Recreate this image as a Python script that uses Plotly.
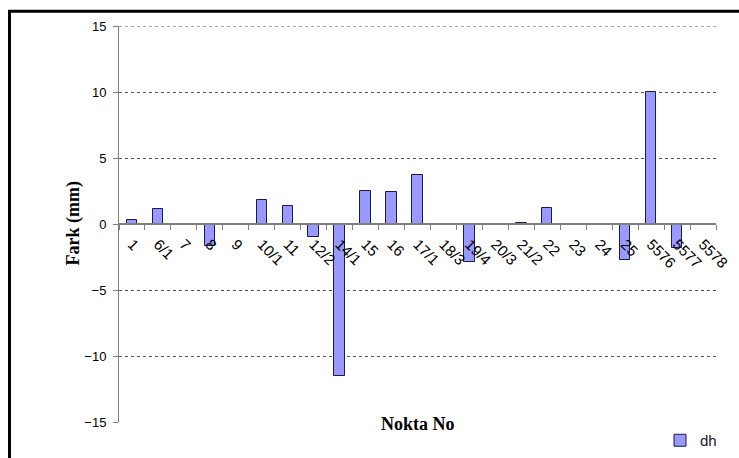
import plotly.graph_objects as go

# Point numbers and height differences (mm)
points = ["1", "6/1", "7", "8", "9", "10/1", "11", "12/2", "14/1", "15", "16",
          "17/1", "18/3", "19/4", "20/3", "21/2", "22", "23", "24", "25",
          "5576", "5577", "5578"]
dh = [0.3, 1.1, -0.1, -1.7, 0.0, 1.8, 1.4, -1.0, -11.5, 2.5, 2.4,
      3.7, 0.0, -2.9, 0.0, 0.1, 1.2, 0.0, 0.0, -2.7,
      10.0, -1.8, 0.0]
y_ticks = [-15, -10, -5, 0, 5, 10, 15]
y_max = 15

W, H = 739, 458
L, R, T, B = 119, 23, 26, 36
pw, ph = W - L - R, H - T - B


def px_x(x):
    return (x - L) / pw


def px_y(y):
    return (H - B - y) / ph


fig = go.Figure(
    go.Bar(
        x=points,
        y=dh,
        name="dh",
        width=0.4,
        marker=dict(color="#9999FF", line=dict(color="#1a1a4d", width=1)),
    )
)

fig.update_layout(
    width=W,
    height=H,
    margin=dict(l=L, r=R, t=T, b=B, autoexpand=False),
    paper_bgcolor="white",
    plot_bgcolor="white",
    font=dict(family="Liberation Sans, Arial, sans-serif", size=13, color="black"),
    bargap=0,
    showlegend=True,
    legend=dict(
        x=px_x(660), y=px_y(424), xanchor="left", yanchor="top",
        bgcolor="rgba(0,0,0,0)", font=dict(size=15, color="#1a1a2e"),
        itemwidth=30,
    ),
    xaxis=dict(
        type="category",
        anchor="free",
        position=0.5,
        showline=True,
        linecolor="#808080",
        linewidth=1.5,
        ticks="outside",
        tickson="boundaries",
        ticklen=5,
        tickcolor="#808080",
        tickangle=45,
        ticklabelstandoff=5,
        tickfont=dict(size=15),
        showgrid=False,
        zeroline=False,
    ),
    yaxis=dict(
        range=[-y_max, y_max],
        tickvals=y_ticks,
        showline=True,
        linecolor="#808080",
        linewidth=1,
        ticks="outside",
        ticklen=5,
        tickcolor="#808080",
        ticklabelstandoff=4,
        showgrid=True,
        gridcolor="#555555",
        griddash="dot",
        gridwidth=1,
        zeroline=False,
    ),
    annotations=[
        dict(text="<b>Fark (mm)</b>", x=px_x(60), y=0.5, xref="paper", yref="paper",
             textangle=-90, showarrow=False,
             font=dict(family="Liberation Serif, Times New Roman, serif", size=18)),
        dict(text="<b>Nokta No</b>", x=0.5, y=px_y(436), xref="paper", yref="paper",
             showarrow=False,
             font=dict(family="Liberation Serif, Times New Roman, serif", size=18)),
    ],
    shapes=[
        # top gridline at the upper end of the range
        dict(type="line", xref="paper", yref="y", x0=0, x1=1, y0=y_max, y1=y_max,
             line=dict(color="#555555", width=1, dash="dot"), layer="below"),
        # outer frame (left and top edges)
        dict(type="line", xref="paper", yref="paper", x0=px_x(9.5), x1=px_x(9.5),
             y0=px_y(10), y1=px_y(470), line=dict(color="black", width=3)),
        dict(type="line", xref="paper", yref="paper", x0=px_x(8), x1=px_x(750),
             y0=px_y(11.2), y1=px_y(11.2), line=dict(color="black", width=3)),
    ],
)

fig.write_html("out.html")
